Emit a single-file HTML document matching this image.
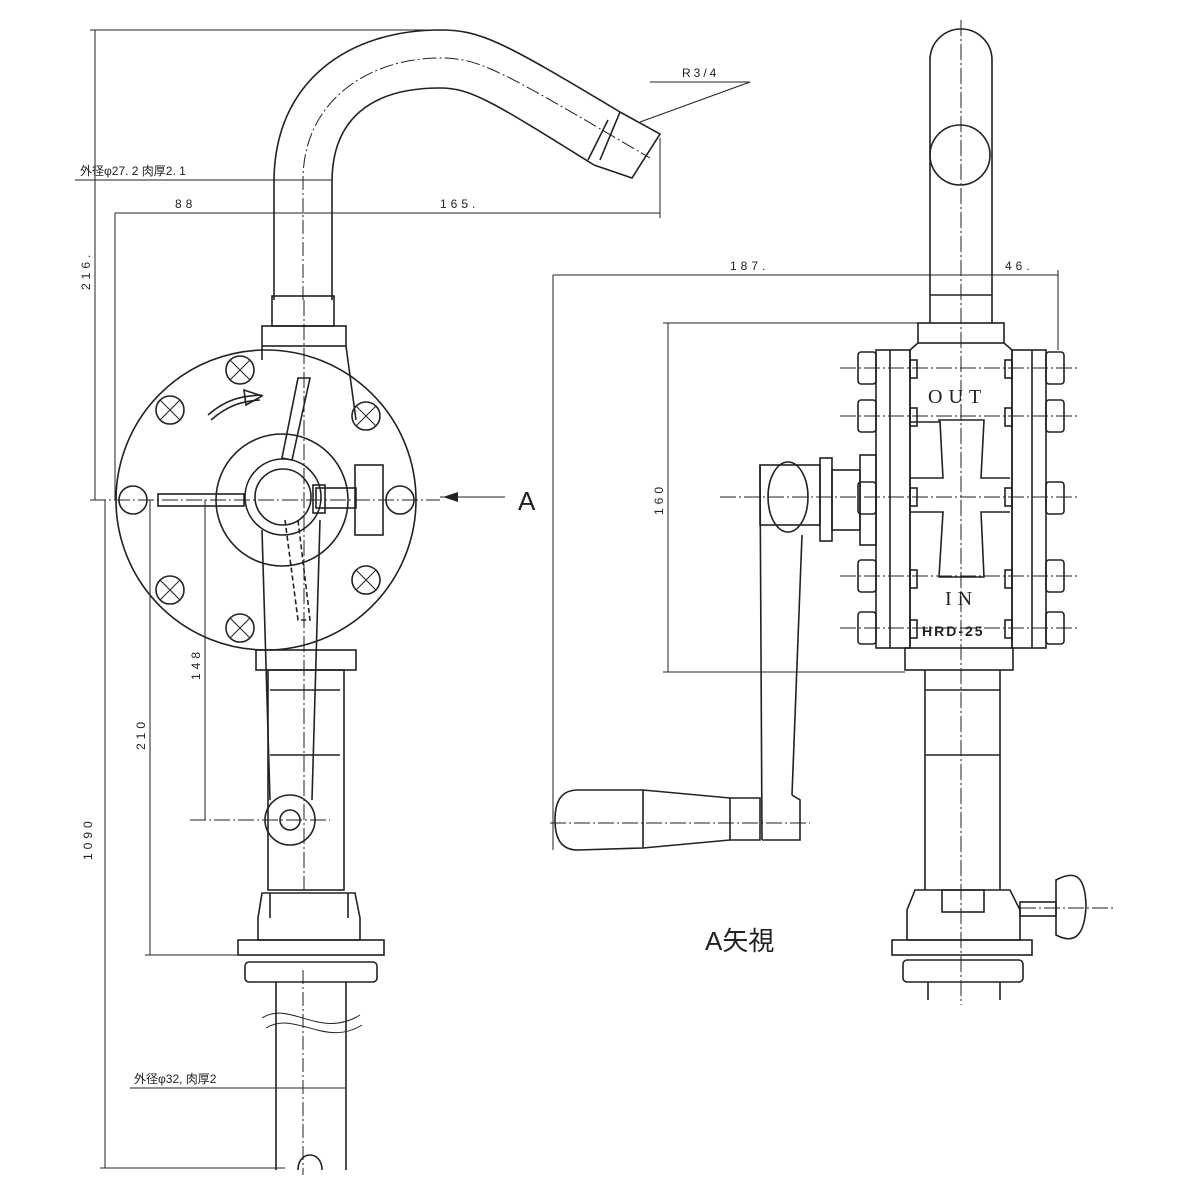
<!DOCTYPE html>
<html><head><meta charset="utf-8"><style>
html,body{margin:0;padding:0;background:#fff}
svg{display:block}
text{font-family:"Liberation Sans","Noto Sans CJK JP",sans-serif;fill:#222}
</style></head><body>
<svg width="1200" height="1200" viewBox="0 0 1200 1200" xmlns="http://www.w3.org/2000/svg">
<g fill="none" stroke="#222" stroke-width="1.6">
<!-- ===== LEFT VIEW ===== -->
<!-- top pipe -->
<path d="M274,300 L274,182 C274,80 350,30 440,30 C480,30 500,40 620,112"/>
<path d="M332,300 L332,182 C332,120 370,88 440,88 C470,88 490,100 594,165"/>
<path d="M620,112 L660,134 L632,178 L594,165"/>
<path d="M608,120 L588,160 M620,112 L600,160"/>
<path d="M303,300 L303,180 C303,100 370,58 440,58 C480,58 500,70 650,158" stroke-dasharray="14,3,2,3" stroke-width="1"/>
<!-- collar/flange -->
<rect x="272" y="296" width="62" height="30"/>
<rect x="262" y="326" width="84" height="20"/>
<path d="M262,346 L262,360 M346,346 L356,420"/>
<!-- big disk -->
<circle cx="266" cy="500" r="150"/>
<circle cx="282" cy="500" r="66"/>
<circle cx="283" cy="497" r="38"/>
<circle cx="283" cy="497" r="28"/>
<!-- bolts -->
<g>
<circle cx="240" cy="370" r="14"/><circle cx="170" cy="410" r="14"/><circle cx="133" cy="500" r="14"/>
<circle cx="170" cy="590" r="14"/><circle cx="240" cy="628" r="14"/><circle cx="366" cy="416" r="14"/>
<circle cx="366" cy="580" r="14"/><circle cx="400" cy="500" r="14"/>
</g>
<g stroke-width="1">
<path d="M230,360 L250,380 M250,360 L230,380 M160,400 L180,420 M180,400 L160,420 M160,580 L180,600 M180,580 L160,600 M230,618 L250,638 M250,618 L230,638 M356,406 L376,426 M376,406 L356,426 M356,570 L376,590 M376,570 L356,590"/>
</g>
<!-- rotation arrow -->
<path d="M208,415 C225,400 240,396 262,395 M211,420 C228,405 243,401 260,400"/>
<path d="M244,390 L262,396 L246,405 Z"/>
<!-- rod and knob -->
<rect x="158" y="494" width="86" height="12"/>
<rect x="316" y="488" width="40" height="20"/>
<rect x="355" y="465" width="28" height="70"/>
<rect x="313" y="485" width="12" height="28"/>
<!-- handle arm -->
<path d="M298,378 L310,378 L292,460 L282,458 Z"/>
<path d="M262,530 L270,800 M320,520 L312,800"/>
<path d="M285,520 L298,620 L310,620 L298,520" stroke-dasharray="5,3"/>
<circle cx="290" cy="820" r="25"/>
<circle cx="290" cy="820" r="10"/>
<!-- lower body -->
<rect x="256" y="650" width="100" height="20"/>
<rect x="268" y="670" width="76" height="220"/>
<path d="M270,690 L340,690 M270,755 L340,755"/>
<!-- base -->
<path d="M262,893 L355,893 L360,918 L360,940 L258,940 L258,918 Z"/>
<path d="M270,893 L270,918 M348,893 L348,918"/>
<rect x="238" y="940" width="146" height="15"/>
<rect x="245" y="962" width="132" height="20" rx="4"/>
<path d="M276,982 L276,1170 M346,982 L346,1170"/>
<path d="M262,1018 C290,1000 320,1040 360,1015 M266,1028 C295,1010 325,1048 362,1025" stroke-width="1"/>
<path d="M298,1170 C298,1150 322,1150 322,1170"/>
<path d="M303,970 L303,1175" stroke-dasharray="14,3,2,3" stroke-width="1"/>
<!-- centre lines -->
<g stroke-width="1" stroke-dasharray="16,3,2,3">
<path d="M90,500 L440,500"/><path d="M304,300 L304,890"/><path d="M190,820 L330,820"/>
</g>
<!-- dimension lines -->
<g stroke-width="1">
<path d="M95,30 L95,500 M90,30 L440,30"/>
<path d="M105,500 L105,1168 M100,1168 L285,1168"/>
<path d="M150,500 L150,955 M145,955 L240,955"/>
<path d="M205,500 L205,820"/>
<path d="M115,213 L660,213 M115,213 L115,500 M660,138 L660,218"/>
<path d="M75,180 L332,180"/>
<path d="M130,1088 L345,1088"/>
<path d="M440,497 L505,497"/>
<path d="M650,82 L750,82 L640,122"/>
</g>
</g>
<g fill="#222">
<path d="M443,497 L458,492 L458,502 Z"/>
</g>
<g font-size="12">
<text x="80" y="175">外径φ27. 2  肉厚2. 1</text>
<text x="175" y="208" letter-spacing="4">88</text>
<text x="440" y="208" letter-spacing="4">165.</text>
<text x="682" y="77" letter-spacing="3">R3/4</text>
<text x="134" y="1083">外径φ32, 肉厚2</text>
<text transform="translate(90,290) rotate(-90)" letter-spacing="4">216.</text>
<text transform="translate(92,860) rotate(-90)" letter-spacing="4">1090</text>
<text transform="translate(145,750) rotate(-90)" letter-spacing="4">210</text>
<text transform="translate(200,680) rotate(-90)" letter-spacing="4">148</text>
<text x="730" y="270" letter-spacing="4">187.</text>
<text x="1005" y="270" letter-spacing="4">46.</text>
<text transform="translate(663,515) rotate(-90)" letter-spacing="4">160</text>
</g>
<text x="518" y="510" font-size="26">A</text>
<text x="705" y="950" font-size="26">A矢視</text>

<!-- ===== RIGHT VIEW ===== -->
<g fill="none" stroke="#222" stroke-width="1.6">
<path d="M930,323 L930,60 A31,31 0 0 1 992,60 L992,323"/>
<circle cx="960" cy="155" r="30"/>
<path d="M930,295 L992,295"/>
<!-- top collar -->
<rect x="918" y="323" width="86" height="20"/>
<path d="M918,343 L910,350 L910,648 M1004,343 L1012,350 L1012,648"/>
<rect x="905" y="648" width="108" height="22"/>
<!-- flanges -->
<rect x="876" y="350" width="34" height="298"/>
<rect x="1012" y="350" width="34" height="298"/>
<path d="M890,350 L890,648 M1032,350 L1032,648"/>
<!-- bolts -->
<g>
<rect x="858" y="352" width="18" height="32" rx="3"/><rect x="858" y="400" width="18" height="32" rx="3"/><rect x="858" y="482" width="18" height="32" rx="3"/><rect x="858" y="560" width="18" height="32" rx="3"/><rect x="858" y="612" width="18" height="32" rx="3"/>
<rect x="1046" y="352" width="18" height="32" rx="3"/><rect x="1046" y="400" width="18" height="32" rx="3"/><rect x="1046" y="482" width="18" height="32" rx="3"/><rect x="1046" y="560" width="18" height="32" rx="3"/><rect x="1046" y="612" width="18" height="32" rx="3"/>
<rect x="910" y="360" width="7" height="18"/><rect x="910" y="408" width="7" height="18"/><rect x="910" y="488" width="7" height="18"/><rect x="910" y="570" width="7" height="18"/><rect x="910" y="620" width="7" height="18"/>
<rect x="1005" y="360" width="7" height="18"/><rect x="1005" y="408" width="7" height="18"/><rect x="1005" y="488" width="7" height="18"/><rect x="1005" y="570" width="7" height="18"/><rect x="1005" y="620" width="7" height="18"/>
</g>
<!-- cross -->
<path d="M910,422 L940,422 L939,420 L984,420 L981,478 L1010,478 M910,478 L943,478 L940,422 M910,512 L943,512 L939,577 L984,577 L981,512 L1010,512"/>
<!-- crank -->
<rect x="860" y="455" width="16" height="90"/>
<rect x="832" y="470" width="28" height="60"/>
<rect x="820" y="458" width="12" height="83"/>
<rect x="760" y="465" width="60" height="60"/>
<ellipse cx="788" cy="497" rx="20" ry="35"/>
<path d="M760,465 L762,840 M802,535 L792,795"/>
<path d="M792,795 L800,800 L800,840 L762,840"/>
<path d="M578,790 L643,790 L730,798 L760,798 L760,840 L730,840 L643,848 L578,850 C562,850 555,840 555,820 C555,800 562,790 578,790 Z"/>
<path d="M643,790 L643,848 M730,798 L730,840"/>
<!-- lower -->
<path d="M925,670 L925,890 M1000,670 L1000,890 M925,690 L1000,690 M925,755 L1000,755"/>
<path d="M915,890 L1010,890 L1020,910 L1020,940 L907,940 L907,910 Z"/>
<rect x="942" y="890" width="42" height="22"/>
<rect x="892" y="940" width="140" height="15"/>
<rect x="903" y="960" width="120" height="22" rx="4"/>
<path d="M928,982 L928,1000 M1000,982 L1000,1000"/>
<rect x="1020" y="902" width="36" height="14"/>
<path d="M1056,880 C1075,870 1085,875 1086,905 C1085,935 1075,945 1056,935 Z"/>
<!-- centre lines -->
<g stroke-width="1" stroke-dasharray="16,3,2,3">
<path d="M961,20 L961,1005"/><path d="M720,497 L1080,497"/><path d="M550,823 L810,823"/><path d="M840,368 L1080,368 M840,416 L1080,416 M840,576 L1080,576 M840,628 L1080,628"/><path d="M1020,908 L1115,908"/>
</g>
<!-- dims -->
<g stroke-width="1">
<path d="M553,275 L1058,275 M553,275 L553,850 M1058,270 L1058,350"/>
<path d="M668,323 L668,672 M663,323 L918,323 M663,672 L905,672"/>
</g>
</g>
<g font-size="20" letter-spacing="6" font-family="Liberation Serif">
<text x="928" y="403" style="font-family:'Liberation Serif',serif">OUT</text>
<text x="945" y="605" style="font-family:'Liberation Serif',serif">IN</text>
</g>
<text x="922" y="636" font-size="14" font-weight="bold" letter-spacing="2">HRD-25</text>
</svg>
</body></html>
